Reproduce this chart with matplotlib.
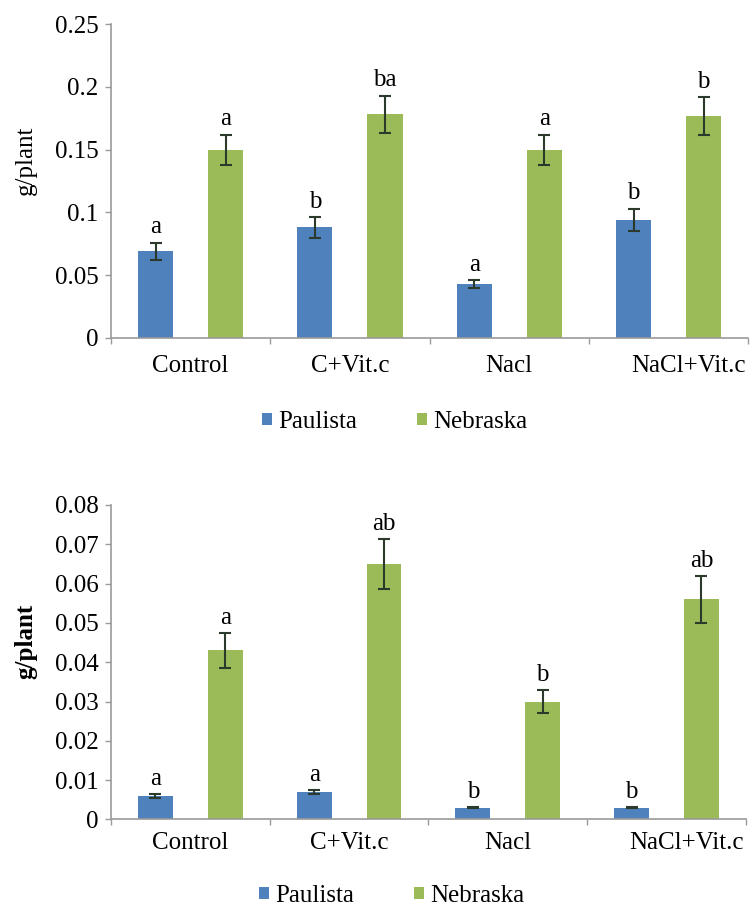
import numpy as np
import matplotlib
matplotlib.use("Agg")
import matplotlib.pyplot as plt
from matplotlib.transforms import ScaledTranslation

plt.rcParams['font.family'] = ['Liberation Serif', 'DejaVu Serif']

categories = ["Control", "C+Vit.c", "Nacl", "NaCl+Vit.c"]
series = ["Paulista", "Nebraska"]

top_paulista = [0.069, 0.088, 0.043, 0.094]
top_paulista_err = [0.007, 0.008, 0.003, 0.009]
top_nebraska = [0.150, 0.178, 0.150, 0.177]
top_nebraska_err = [0.012, 0.015, 0.012, 0.015]
top_letters_p = ["a", "b", "a", "b"]
top_letters_n = ["a", "ba", "a", "b"]

bot_paulista = [0.006, 0.007, 0.003, 0.003]
bot_paulista_err = [0.0005, 0.0005, 0.0002, 0.0002]
bot_nebraska = [0.043, 0.065, 0.030, 0.056]
bot_nebraska_err = [0.0045, 0.0063, 0.003, 0.006]
bot_letters_p = ["a", "a", "b", "b"]
bot_letters_n = ["a", "ab", "b", "ab"]

top_ticks = [0, 0.05, 0.1, 0.15, 0.2, 0.25]
top_ticklabels = ["0", "0.05", "0.1", "0.15", "0.2", "0.25"]
bot_ticks = [0, 0.01, 0.02, 0.03, 0.04, 0.05, 0.06, 0.07, 0.08]
bot_ticklabels = ["0", "0.01", "0.02", "0.03", "0.04", "0.05", "0.06", "0.07", "0.08"]

BLUE = "#4F81BD"
GREEN = "#9BBB59"
AXC = "#9a9a9a"
FS = 18

fig = plt.figure(figsize=(7.55, 9.10), dpi=100)
ax1 = fig.add_axes([0.147, 0.6286, 0.844, 0.345])
ax2 = fig.add_axes([0.147, 0.0995, 0.841, 0.3456])


def draw(ax, pv, pe, nv, ne, lp, ln, ticks, tlabels, ymax, bold, xpad, letter_off):
    x = np.arange(len(categories))
    w = 0.22
    ax.bar(x - w, pv, width=w, color=BLUE, zorder=2, label=series[0])
    ax.bar(x + w, nv, width=w, color=GREEN, zorder=2, label=series[1])
    ax.errorbar(x - w, pv, yerr=pe, fmt='none', ecolor='#2b3a2b', elinewidth=1.5,
                capsize=4, capthick=1.5, zorder=3)
    ax.errorbar(x + w, nv, yerr=ne, fmt='none', ecolor='#2b3a2b', elinewidth=1.5,
                capsize=4, capthick=1.5, zorder=3)
    for xi, v, e, t in zip(x - w, pv, pe, lp):
        ax.annotate(t, (xi, v + e), xytext=(0, letter_off), textcoords='offset points',
                    ha='center', va='bottom', fontsize=FS)
    for xi, v, e, t in zip(x + w, nv, ne, ln):
        ax.annotate(t, (xi, v + e), xytext=(0, letter_off), textcoords='offset points',
                    ha='center', va='bottom', fontsize=FS)
    ax.set_xlim(-0.5, len(categories) - 0.5)
    ax.set_ylim(0, ymax)
    ax.set_yticks(ticks)
    ax.set_yticklabels(tlabels, fontsize=FS)
    ax.set_xticks(x)
    ax.set_xticklabels(categories, fontsize=FS)
    ax.set_xticks(np.arange(len(categories) + 1) - 0.5, minor=True)
    ax.tick_params(axis='x', which='major', length=0, pad=xpad)
    ax.tick_params(axis='x', which='minor', length=4, color=AXC, width=1)
    ax.tick_params(axis='y', length=4, color=AXC, width=1, pad=5)
    for s in ['top', 'right']:
        ax.spines[s].set_visible(False)
    for s in ['left', 'bottom']:
        ax.spines[s].set_color(AXC)
        ax.spines[s].set_linewidth(1.2)
    ax.set_ylabel("g/plant", fontsize=FS, fontweight='bold' if bold else 'normal')
    ax.yaxis.set_label_coords(-0.116, 0.565)
    lab = ax.get_xticklabels()[-1]
    lab.set_transform(lab.get_transform() + ScaledTranslation(0.2, 0, fig.dpi_scale_trans))


draw(ax1, top_paulista, top_paulista_err, top_nebraska, top_nebraska_err,
     top_letters_p, top_letters_n, top_ticks, top_ticklabels, 0.25, False, 12, 3)
draw(ax2, bot_paulista, bot_paulista_err, bot_nebraska, bot_nebraska_err,
     bot_letters_p, bot_letters_n, bot_ticks, bot_ticklabels, 0.08, True, 9, 3)

for ax, yc, xc in [(ax1, 1 - 422 / 910, 395 / 755), (ax2, 1 - 896 / 910, 392 / 755)]:
    ax.legend(loc='center', bbox_to_anchor=(xc, yc), bbox_transform=fig.transFigure,
              ncol=2, frameon=False, prop={'family': 'Liberation Serif', 'size': FS},
              handlelength=0.4, handleheight=0.4,
              handletextpad=0.25, columnspacing=2.4)

fig.savefig("out.png", dpi=100)
